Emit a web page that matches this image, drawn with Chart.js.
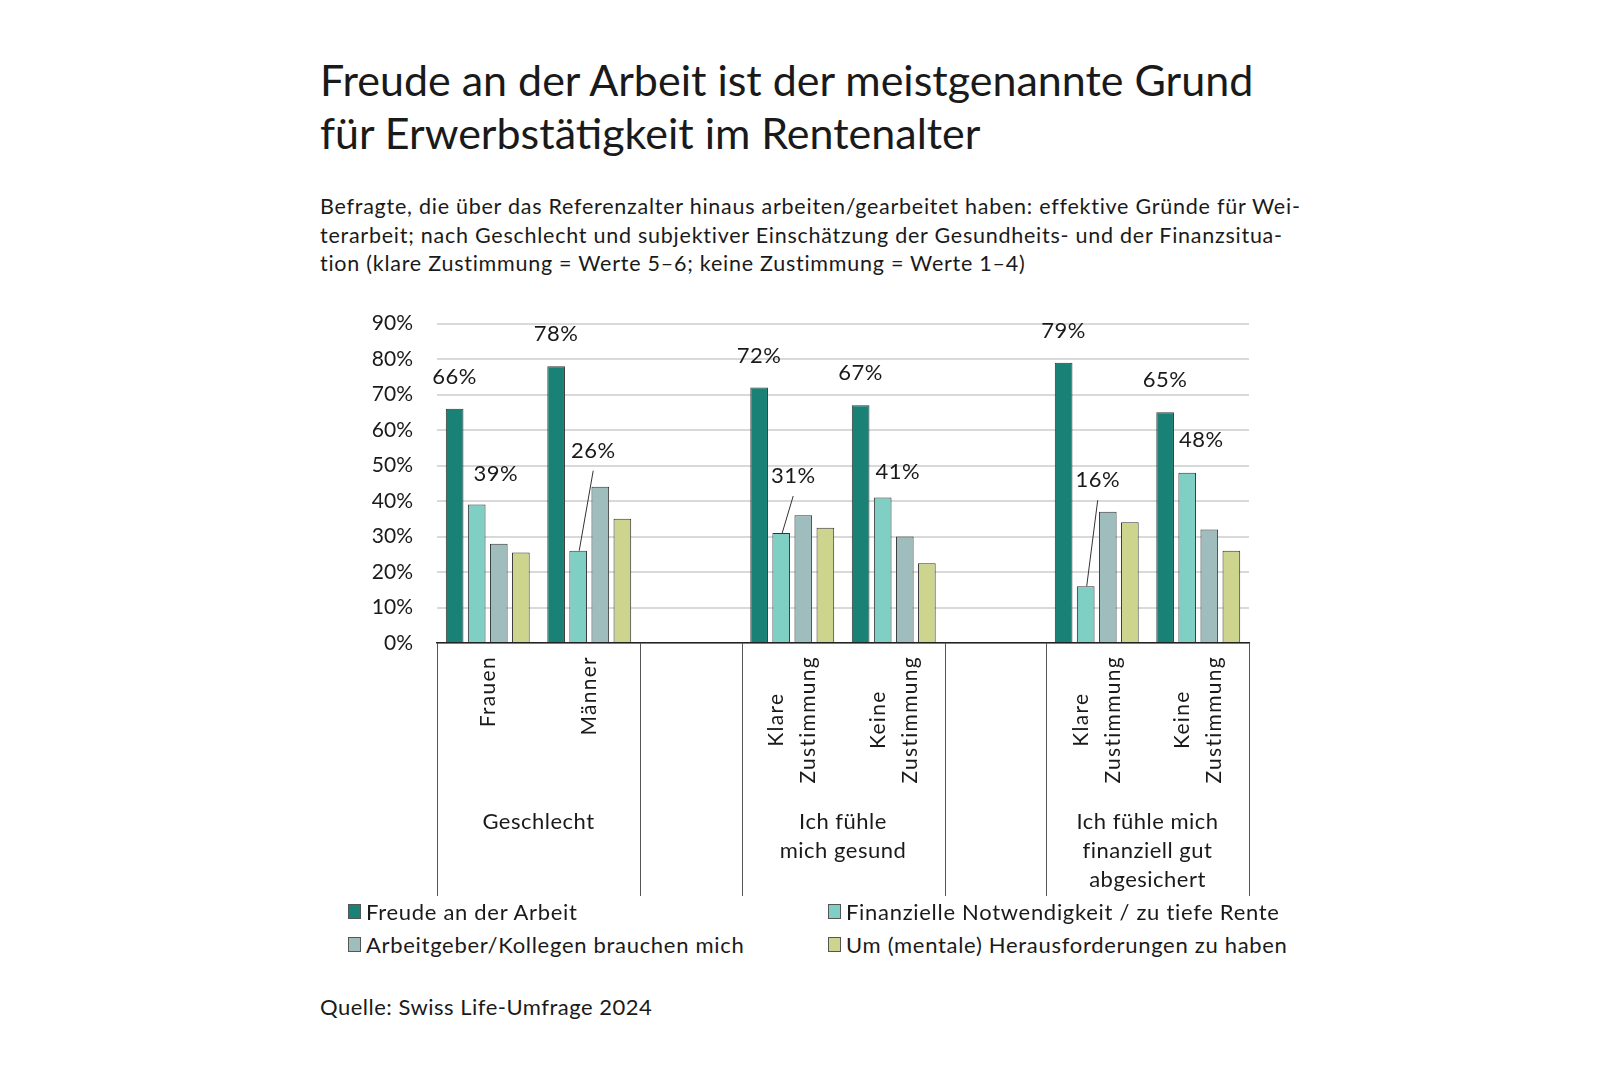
<!DOCTYPE html>
<html lang="de">
<head>
<meta charset="utf-8">
<title>Freude an der Arbeit</title>
<script src="https://cdn.jsdelivr.net/npm/chart.js@4/dist/chart.umd.min.js"></script>
<style>
  body { margin: 0; background: #fff; font-family: Lato, "Noto Sans", sans-serif; color: #1a1a1a; }
  #page { position: relative; width: 1620px; height: 1080px; }
  h1 { position: absolute; left: 320px; top: 53px; margin: 0; font-weight: 400; font-size: 43px; line-height: 53px; }
  #sub { position: absolute; left: 320px; top: 192px; margin: 0; font-size: 21.5px; line-height: 28.5px; letter-spacing: 0.75px; }
  #box { position: absolute; left: 328px; top: 287px; width: 1000px; height: 613px; }
  #legend { position: absolute; left: 348px; top: 898px; width: 1000px; font-size: 22px; letter-spacing: 0.7px; }
  .item { position: absolute; display: flex; align-items: center; white-space: nowrap; }
  .sw { width: 11px; height: 13px; border: 1px solid #555; margin-right: 5px; }
  #src { position: absolute; left: 320px; top: 993px; font-size: 22px; letter-spacing: 0.5px; }
</style>
</head>
<body>
<div id="page">
  <h1>Freude an der Arbeit ist der meistgenannte Grund<br>für Erwerbstätigkeit im Rentenalter</h1>
  <p id="sub">Befragte, die über das Referenzalter hinaus arbeiten/gearbeitet haben: effektive Gründe für Wei-<br>terarbeit; nach Geschlecht und subjektiver Einschätzung der Gesundheits- und der Finanzsitua-<br>tion (klare Zustimmung = Werte 5–6; keine Zustimmung = Werte 1–4)</p>
  <div id="box"><canvas id="grafico"></canvas></div>
  <div id="legend"></div>
  <div id="src">Quelle: Swiss Life-Umfrage 2024</div>
</div>
<script>
// Kategorien (leere Plätze trennen die Gruppen)
const kategorien = [["Frauen"], ["Männer"], [], ["Klare", "Zustimmung"], ["Keine", "Zustimmung"], [], ["Klare", "Zustimmung"], ["Keine", "Zustimmung"]];
const gruppen = [["Geschlecht"], ["Ich fühle", "mich gesund"], ["Ich fühle mich", "finanziell gut", "abgesichert"]];
const gruppenBereich = [[0, 1], [3, 4], [6, 7]];

const serien = ["Freude an der Arbeit", "Finanzielle Notwendigkeit / zu tiefe Rente", "Arbeitgeber/Kollegen brauchen mich", "Um (mentale) Herausforderungen zu haben"];
const freude = [66, 78, null, 72, 67, null, 79, 65];
const finanziell = [39, 26, null, 31, 41, null, 16, 48];
const arbeitgeber = [28, 44, null, 36, 30, null, 37, 32];
const mental = [25.5, 35, null, 32.5, 22.5, null, 34, 26];

const yTicks = [0, 10, 20, 30, 40, 50, 60, 70, 80, 90];

const farben = ["#1a8176", "#80cfc4", "#9ebdbc", "#cdd48e"];
const schrift = "Lato, 'Noto Sans', sans-serif";

// Verschiebung der Beschriftungen (Pixel relativ zur Balkenoberkante), wie im Original
const finOffset = [[19, -31, false], [15, -100, true], null, [12, -57, true], [15, -26, false], null, [12, -106, true], [14, -33, false]];

const beschriftungen = {
  id: "beschriftungen",
  afterDatasetsDraw(chart) {
    const ctx = chart.ctx;
    ctx.save();
    ctx.font = "22px " + schrift;
    ctx.letterSpacing = "0.5px";
    ctx.fillStyle = "#1a1a1a";
    ctx.textAlign = "center";
    ctx.textBaseline = "middle";
    chart.getDatasetMeta(0).data.forEach((bar, i) => {
      if (freude[i] == null) return;
      ctx.fillText(freude[i] + "%", bar.x, bar.y - 32);
    });
    chart.getDatasetMeta(1).data.forEach((bar, i) => {
      const o = finOffset[i];
      if (finanziell[i] == null || !o) return;
      const lx = bar.x + o[0], ly = bar.y + o[1];
      ctx.fillText(finanziell[i] + "%", lx, ly);
      if (o[2]) {
        ctx.beginPath();
        ctx.strokeStyle = "#333";
        ctx.lineWidth = 1;
        ctx.moveTo(lx, ly + 20);
        ctx.lineTo(bar.x + 1, bar.y);
        ctx.stroke();
      }
    });
    ctx.restore();
  }
};

const xAchse = {
  id: "xAchse",
  afterDraw(chart) {
    const ctx = chart.ctx;
    const x = chart.scales.x;
    const boden = chart.chartArea.bottom;
    const breite = x.getPixelForValue(1) - x.getPixelForValue(0);
    ctx.save();
    ctx.fillStyle = "#1a1a1a";
    // senkrechte Trennlinien
    ctx.strokeStyle = "#555";
    ctx.lineWidth = 1;
    gruppenBereich.forEach(([a, b]) => {
      [x.getPixelForValue(a) - breite / 2, x.getPixelForValue(b) + breite / 2].forEach(px => {
        ctx.beginPath();
        ctx.moveTo(Math.round(px) + 0.5, boden);
        ctx.lineTo(Math.round(px) + 0.5, boden + 253);
        ctx.stroke();
      });
    });
    // gedrehte Kategorien
    ctx.font = "21px " + schrift;
    ctx.letterSpacing = "1.3px";
    ctx.textAlign = "center";
    ctx.textBaseline = "middle";
    kategorien.forEach((zeilen, i) => {
      if (!zeilen.length) return;
      const w = Math.max(...zeilen.map(z => ctx.measureText(z).width));
      ctx.save();
      ctx.translate(x.getPixelForValue(i), boden + 13);
      ctx.rotate(-Math.PI / 2);
      zeilen.forEach((z, j) => {
        ctx.fillText(z, -w / 2, (j - (zeilen.length - 1) / 2) * 32);
      });
      ctx.restore();
    });
    // Gruppenbeschriftung
    ctx.font = "22px " + schrift;
    ctx.letterSpacing = "0.5px";
    gruppen.forEach((zeilen, g) => {
      const [a, b] = gruppenBereich[g];
      const mitte = (x.getPixelForValue(a) + x.getPixelForValue(b)) / 2;
      zeilen.forEach((z, j) => ctx.fillText(z, mitte, boden + 179 + j * 29));
    });
    ctx.restore();
  }
};

const ctx = document.getElementById("grafico").getContext("2d");
new Chart(ctx, {
  type: "bar",
  data: {
    labels: kategorien.map(k => k.join(" ")),
    datasets: [freude, finanziell, arbeitgeber, mental].map((werte, i) => ({
      label: serien[i],
      data: werte,
      backgroundColor: farben[i],
      borderColor: "#333",
      borderWidth: 1,
      categoryPercentage: 0.87,
      barPercentage: 0.8
    }))
  },
  options: {
    responsive: true,
    maintainAspectRatio: false,
    animation: false,
    layout: { padding: { top: 12, right: 79, bottom: 1, left: 0 } },
    plugins: {
      legend: { display: false },
      tooltip: { enabled: false }
    },
    scales: {
      x: {
        grid: { display: false },
        border: { display: true, color: "#222", width: 1.5 },
        ticks: { display: false },
        afterFit(scale) { scale.height = 256; }
      },
      y: {
        min: 0,
        max: 90,
        afterFit(scale) { scale.width = 109; },
        afterBuildTicks(scale) { scale.ticks = yTicks.map(v => ({ value: v })); },
        grid: { color: "#d9d9d9", lineWidth: 2, drawTicks: false },
        border: { display: false },
        ticks: {
          padding: 24,
          color: "#1a1a1a",
          font: { family: schrift, size: 21 },
          callback: v => v + "%"
        }
      }
    }
  },
  plugins: [beschriftungen, xAchse]
});

// Legende in zwei Spalten
const legende = document.getElementById("legend");
serien.forEach((name, i) => {
  const el = document.createElement("div");
  el.className = "item";
  el.style.left = (i % 2 ? 480 : 0) + "px";
  el.style.top = (Math.floor(i / 2) * 33) + "px";
  el.innerHTML = '<span class="sw" style="background:' + farben[i] + '"></span>' + name;
  legende.appendChild(el);
});
</script>
</body>
</html>
